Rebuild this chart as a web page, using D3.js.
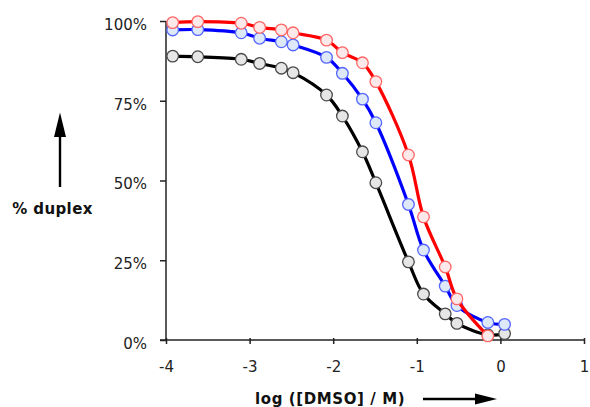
<!DOCTYPE html>
<html><head><meta charset="utf-8">
<script src="https://cdn.jsdelivr.net/npm/d3@7"></script>
<style>body{margin:0;background:#fff}svg{display:block}</style>
</head><body><svg id="c" width="590" height="407"></svg>
<script>
// log [DMSO] positions of the measurements
const xValues = [-3.92, -3.62, -3.10, -2.88, -2.62, -2.48, -2.08, -1.89, -1.65, -1.49, -1.10, -0.92, -0.66, -0.52, -0.15, 0.05];
// % duplex per series (null = no measurement)
const redValues   = [99.5, 99.8, 99.3, 98.0, 97.2, 96.3, 94.0, 90.1, 86.9, 81.0, 58.0, 38.6, 22.9, 12.9, 1.3, null];
const blueValues  = [97.2, 97.3, 96.3, 94.6, 93.5, 92.5, 88.6, 83.6, 75.5, 68.1, 42.5, 28.2, 16.9, 10.8, 5.5, 4.9];
const blackValues = [89.0, 88.8, 88.0, 86.7, 85.2, 83.8, 76.8, 70.2, 59.0, 49.3, 24.5, 14.4, 8.2, 5.2, 1.6, 2.0];
const xTicks = [-4, -3, -2, -1, 0, 1];
const yTicks = [0, 25, 50, 75, 100];
const xTitle = "log ([DMSO] / M)";
const yTitle = "% duplex";

const series = [
  {name: "black", values: blackValues, line: "#000000", stroke: "#4a4a4a", fill: "#e6e6e6"},
  {name: "blue",  values: blueValues,  line: "#0000ff", stroke: "#5566ff", fill: "#dde8f8"},
  {name: "red",   values: redValues,   line: "#ff0000", stroke: "#ff6666", fill: "#fde8ea"}
];

const svg = d3.select("#c");
const x = d3.scaleLinear().domain([-4, 1]).range([166, 584]);
const y = d3.scaleLinear().domain([0, 100]).range([340, 21]);
const font = "'DejaVu Sans', Verdana, sans-serif";

// y axis
const ya = svg.append("g").attr("transform", `translate(${x(-4)},0)`)
  .call(d3.axisLeft(y).tickValues(yTicks).tickSize(6).tickSizeOuter(0).tickPadding(13).tickFormat(d => d + "%"));
ya.select(".domain").remove();
ya.selectAll(".tick line").attr("stroke", "#222").attr("stroke-width", 1.5);
ya.selectAll("text").attr("font-family", font).attr("font-size", 15).attr("fill", "#222").attr("dy", "0.56em");
svg.append("line").attr("x1", x(-4)).attr("x2", x(-4)).attr("y1", y(100)).attr("y2", y(0))
  .attr("stroke", "#222").attr("stroke-width", 1.5);

// x axis
const xa = svg.append("g").attr("transform", `translate(0,${y(0)})`)
  .call(d3.axisBottom(x).tickValues(xTicks).tickSize(4).tickSizeOuter(0).tickFormat(d3.format("d")));
xa.select(".domain").remove();
xa.selectAll(".tick line").attr("y1", -2).attr("y2", 4).attr("stroke", "#222").attr("stroke-width", 1.5);
xa.selectAll("text").attr("font-family", font).attr("font-size", 15).attr("fill", "#222")
  .attr("y", 32).attr("dy", 0).text(d => d < 0 ? "-" + Math.abs(d) : String(d));
svg.append("line").attr("x1", x(-4) - 6).attr("x2", x(1) + 1).attr("y1", y(0)).attr("y2", y(0))
  .attr("stroke", "#222").attr("stroke-width", 1.5);

// series
const line = d3.line().defined(d => d[1] != null)
  .x(d => x(d[0])).y(d => y(d[1])).curve(d3.curveCatmullRom.alpha(0.5));
series.forEach(s => {
  const pts = xValues.map((xv, i) => [xv, s.values[i]]).filter(d => d[1] != null);
  const g = svg.append("g");
  g.append("path").datum(pts).attr("d", line).attr("fill", "none")
    .attr("stroke", s.line).attr("stroke-width", 3.2);
  g.selectAll("circle").data(pts).join("circle")
    .attr("cx", d => x(d[0])).attr("cy", d => y(d[1])).attr("r", 5.8)
    .attr("fill", s.fill).attr("stroke", s.stroke).attr("stroke-width", 1.3);
});

// axis titles with arrows
svg.append("text").attr("x", 52.5).attr("y", 214).attr("text-anchor", "middle")
  .attr("font-family", font).attr("font-weight", "bold").attr("font-size", 15)
  .attr("letter-spacing", 0.4).attr("fill", "#111").text(yTitle);
svg.append("line").attr("x1", 60).attr("x2", 60).attr("y1", 187).attr("y2", 132)
  .attr("stroke", "#000").attr("stroke-width", 2.4);
svg.append("path").attr("d", "M60,112.5 L54,137 L66,137 Z").attr("fill", "#000");

svg.append("text").attr("x", 255).attr("y", 404)
  .attr("font-family", font).attr("font-weight", "bold").attr("font-size", 15)
  .attr("letter-spacing", 0.6).attr("fill", "#111").text(xTitle);
svg.append("line").attr("x1", 423).attr("x2", 480).attr("y1", 399).attr("y2", 399)
  .attr("stroke", "#000").attr("stroke-width", 2.4);
svg.append("path").attr("d", "M497,399 L475,393.5 L475,404.5 Z").attr("fill", "#000");
</script></body></html>
